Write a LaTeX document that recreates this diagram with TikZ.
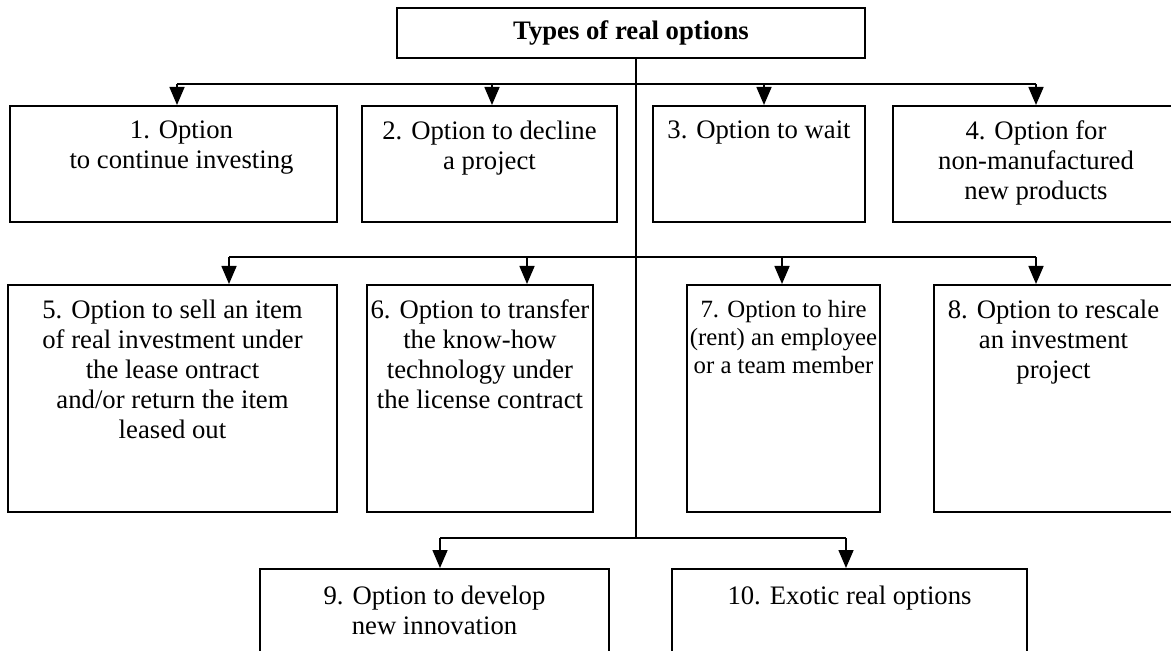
\documentclass[tikz,border=0pt]{standalone}
\usepackage{fontspec}
\setmainfont{Liberation Serif}
\usetikzlibrary{arrows.meta,positioning}

\tikzset{
  optbox/.style={draw,line width=1pt,inner sep=0pt},
  opttext/.style={align=center,inner sep=0pt,font=\fontsize{13.35}{15}\selectfont},
  smalltext/.style={align=center,inner sep=0pt,font=\fontsize{12.4}{14}\selectfont},
  link/.style={line width=0.8pt},
  arr/.style={line width=0.8pt,-{Triangle[length=9pt,width=7.5pt]}}
}

\begin{document}
\begin{tikzpicture}[x=0.5pt,y=-0.5pt]
\useasboundingbox (0,0) rectangle (1171,651);
\clip (0,0) rectangle (1171,651);

\node[optbox,minimum width=234pt,minimum height=25pt,font=\fontsize{13.35}{15}\selectfont\bfseries] (top) at (631,33) {Types of real options};

\node[optbox,minimum width=163.5pt,minimum height=58pt] (b1) at (173.5,164) {};
\node[optbox,minimum width=127.5pt,minimum height=58pt] (b2) at (489.5,164) {};
\node[optbox,minimum width=106pt,minimum height=58pt] (b3) at (759,164) {};
\node[optbox,minimum width=140pt,minimum height=58pt] (b4) at (1033,164) {};

\node[optbox,minimum width=164.5pt,minimum height=113.5pt] (b5) at (172.5,398.5) {};
\node[optbox,minimum width=113pt,minimum height=113.5pt] (b6) at (480,398.5) {};
\node[optbox,minimum width=96.5pt,minimum height=113.5pt] (b7) at (783.5,398.5) {};
\node[optbox,minimum width=119.5pt,minimum height=113.5pt] (b8) at (1053.5,398.5) {};

\node[optbox,minimum width=174.5pt,minimum height=50.5pt] (b9) at (434.5,619.5) {};
\node[optbox,minimum width=177.5pt,minimum height=50.5pt] (b10) at (849.5,619.5) {};

\node[opttext,below=7.9pt of b1.north,xshift=4pt] (t1) {1. Option\\to continue investing};
\node[opttext,below=7.9pt of b2.north] (t2) {2. Option to decline\\a project};
\node[opttext,below=7.9pt of b3.north] (t3) {3. Option to wait};
\node[opttext,below=7.9pt of b4.north,xshift=1.5pt] (t4) {4. Option for\\non-manufactured\\new products};

\node[opttext,below=7.9pt of b5.north] (t5) {5. Option to sell an item\\of real investment under\\the lease ontract\\and/or return the item\\leased out};
\node[opttext,below=7.9pt of b6.north] (t6) {6. Option to transfer\\the know-how\\technology under\\the license contract};
\node[smalltext,below=8pt of b7.north] (t7) {7. Option to hire\\(rent) an employee\\or a team member};
\node[opttext,below=7.9pt of b8.north] (t8) {8. Option to rescale\\an investment\\project};

\node[opttext,below=9pt of b9.north] (t9) {9. Option to develop\\new innovation};
\node[opttext,below=9pt of b10.north] (t10) {10. Exotic real options};

\coordinate (j1) at (636,84);
\coordinate (j2) at (636,257);
\coordinate (j3) at (636,538);

\coordinate (a1) at ([xshift=1.75pt]b1.north);
\coordinate (a2) at ([xshift=1.25pt]b2.north);
\coordinate (a3) at ([xshift=2.5pt]b3.north);
\coordinate (a4) at ([xshift=1.5pt]b4.north);
\coordinate (a5) at ([xshift=28.25pt]b5.north);
\coordinate (a6) at ([xshift=23.5pt]b6.north);
\coordinate (a7) at ([xshift=-0.75pt]b7.north);
\coordinate (a8) at ([xshift=-8.75pt]b8.north);
\coordinate (a9) at ([xshift=2.75pt]b9.north);
\coordinate (a10) at ([xshift=-1.75pt]b10.north);

\draw[link] (top.south -| j1) -- (j3);
\draw[link] (a1 |- j1) -- (a4 |- j1);
\draw[link] (a5 |- j2) -- (a8 |- j2);
\draw[link] (a9 |- j3) -- (a10 |- j3);

\draw[arr] (a1 |- j1) -- (a1);
\draw[arr] (a2 |- j1) -- (a2);
\draw[arr] (a3 |- j1) -- (a3);
\draw[arr] (a4 |- j1) -- (a4);
\draw[arr] (a5 |- j2) -- (a5);
\draw[arr] (a6 |- j2) -- (a6);
\draw[arr] (a7 |- j2) -- (a7);
\draw[arr] (a8 |- j2) -- (a8);
\draw[arr] (a9 |- j3) -- (a9);
\draw[arr] (a10 |- j3) -- (a10);
\end{tikzpicture}
\end{document}
